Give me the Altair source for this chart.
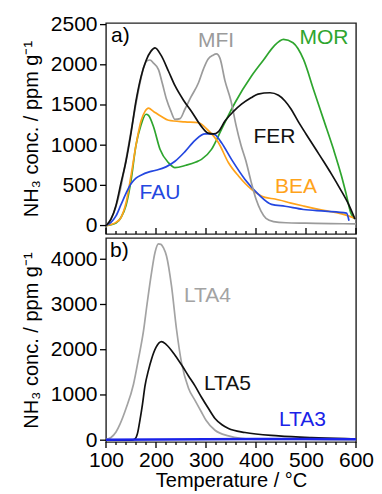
import altair as alt
import pandas as pd

# ---------------- data: panel a) ----------------
FER_T = [100, 110, 120, 130, 140, 150, 160, 170, 180, 190, 198, 210, 225, 238, 255, 271, 290, 304, 315, 325,
         338, 355, 371, 390, 404, 428, 445, 458, 470, 484, 500, 518, 535, 551, 568, 585, 598]
FER_V = [0, 80, 250, 530, 800, 1150, 1550, 1850, 2050, 2170, 2210, 2120, 1920, 1740, 1560, 1420, 1240, 1150, 1140, 1170,
         1300, 1420, 1510, 1590, 1636, 1652, 1620, 1550, 1450, 1300, 1140, 964, 800, 640, 460, 267, 80]

MFI_T = [100, 108, 118, 128, 138, 148, 158, 168, 176, 182, 188, 195, 205, 213, 221, 230, 238, 248, 258, 270,
         285, 295, 304, 314, 321, 328, 338, 350, 360, 370, 380, 390, 400, 410, 420, 435, 460, 500, 550, 600]
MFI_V = [0, 60, 200, 430, 750, 1100, 1450, 1776, 1980, 2050, 2060, 2020, 1940, 1760, 1570, 1420, 1320, 1330, 1450, 1600,
         1777, 1950, 2070, 2120, 2135, 2080, 1800, 1550, 1250, 1000, 800, 550, 330, 180, 90, 50, 35, 30, 25, 20]

MOR_T = [100, 110, 120, 130, 140, 150, 160, 170, 180, 185, 195, 208, 225, 238, 260, 280, 291, 311, 331, 358,
         391, 415, 436, 455, 474, 495, 515, 535, 555, 571, 580, 590, 596]
MOR_V = [0, 10, 30, 100, 250, 560, 1000, 1250, 1385, 1370, 1230, 950, 781, 720, 750, 790, 823, 948, 1197, 1528,
         1860, 2060, 2233, 2316, 2274, 2067, 1694, 1321, 948, 616, 400, 150, 90]

BEA_T = [100, 120, 130, 140, 150, 160, 170, 178, 185, 195, 210, 225, 258, 285, 305, 325, 345, 365, 391, 418,
         438, 470, 495, 538, 561, 580, 598]
BEA_V = [0, 40, 100, 280, 620, 1000, 1300, 1420, 1460, 1420, 1360, 1310, 1290, 1279, 1180, 1030, 781, 616, 450, 350,
         330, 280, 243, 185, 160, 130, 90]

FAU_T = [100, 110, 120, 130, 140, 150, 160, 171, 185, 198, 220, 238, 258, 278, 298, 311, 318, 331, 351, 378,
         405, 431, 458, 495, 538, 581, 586]
FAU_V = [0, 40, 120, 260, 400, 520, 590, 630, 665, 685, 730, 800, 920, 1060, 1140, 1140, 1130, 1030, 823, 574,
         388, 264, 240, 200, 180, 155, 60]

# ---------------- data: panel b) ----------------
LTA4_T = [100, 110, 120, 128, 140, 155, 165, 175, 182, 191, 198, 205, 210, 215, 221, 231, 241, 251, 265, 278,
          290, 300, 318, 345, 370, 400, 500, 600]
LTA4_V = [20, 60, 180, 354, 700, 1238, 1800, 2415, 3000, 3700, 4150, 4340, 4330, 4250, 4073, 3410, 2453, 1715, 1150, 880,
          640, 440, 220, 95, 40, 20, 15, 10]

LTA5_T = [100, 150, 158, 163, 168, 173, 178, 185, 191, 200, 211, 220, 238, 252, 265, 278, 291, 305, 318, 332,
          345, 378, 445, 511, 578, 600]
LTA5_V = [0, 0, 30, 150, 450, 800, 1200, 1550, 1790, 2050, 2180, 2120, 1880, 1650, 1420, 1200, 950, 700, 480, 340,
          260, 170, 95, 57, 35, 30]

LTA3_T = [100, 200, 300, 400, 500, 600]
LTA3_V = [10, 15, 20, 25, 25, 20]

# ---------------- labels ----------------
TOP_LABELS = ["MFI", "MOR", "FER", "BEA", "FAU"]
TOP_LABEL_T = [320, 536, 437, 480, 208]
TOP_LABEL_V = [2300, 2336, 1103, 479, 410]

BOT_LABELS = ["LTA4", "LTA5", "LTA3"]
BOT_LABEL_T = [303, 343, 493]
BOT_LABEL_V = [3189, 1233, 438]

PANEL_TAGS = ["a)", "b)"]
PANEL_TAG_T = [110, 108]
PANEL_TAG_V = [2360, 4183]

SERIES = ["MOR", "BEA", "FAU", "MFI", "FER", "LTA4", "LTA5", "LTA3"]
COLORS = ["#2ea52e", "#ffa31a", "#2447e0", "#9b9b9b", "#111111", "#a3a3a3", "#111111", "#1a22e8"]

X_MAJOR = list(range(100, 601, 100))
X_MINOR = list(range(100, 601, 20))
Y_TOP_TICKS = [0, 500, 1000, 1500, 2000, 2500]
Y_BOT_TICKS = [0, 1000, 2000, 3000, 4000]
FONT = "Liberation Sans"

# ---------------- layout constants ----------------
W, H_TOP, H_BOT = 250, 211, 204
X_DOM = [100, 600]
Y_TOP_DOM = [-105, 2520]
Y_BOT_DOM = [-40, 4470]
MAJOR_PX, MINOR_PX = 6, 3


def long_df(pairs):
    rows = []
    for name, ts, vs in pairs:
        for i, (t, v) in enumerate(zip(ts, vs)):
            rows.append({"series": name, "T": t, "v": v, "i": i})
    return pd.DataFrame(rows)


def per_px(dom, px):
    return (dom[1] - dom[0]) / px


def tick_df(ydom, h, yvalues, inward):
    """Axis tick marks as two-point line segments (in data units)."""
    ky = per_px(ydom, h)
    kx = per_px(X_DOM, W)
    sign = 1 if inward else -1
    rows = []
    for n, t in enumerate(X_MINOR):
        size = MAJOR_PX if t % 100 == 0 else MINOR_PX
        rows.append({"id": f"x{n}", "k": 0, "T": t, "v": ydom[0]})
        rows.append({"id": f"x{n}", "k": 1, "T": t, "v": ydom[0] + sign * size * ky})
    for n, v in enumerate(yvalues):
        rows.append({"id": f"y{n}", "k": 0, "T": X_DOM[0], "v": v})
        rows.append({"id": f"y{n}", "k": 1, "T": X_DOM[0] - MAJOR_PX * kx, "v": v})
    return pd.DataFrame(rows)


top_df = long_df([("MOR", MOR_T, MOR_V), ("BEA", BEA_T, BEA_V), ("FAU", FAU_T, FAU_V),
                  ("MFI", MFI_T, MFI_V), ("FER", FER_T, FER_V)])
bot_df = long_df([("LTA4", LTA4_T, LTA4_V), ("LTA5", LTA5_T, LTA5_V)])
lta3_df = long_df([("LTA3", LTA3_T, LTA3_V)])

top_lab = pd.DataFrame({"series": TOP_LABELS, "T": TOP_LABEL_T, "v": TOP_LABEL_V})
bot_lab = pd.DataFrame({"series": BOT_LABELS, "T": BOT_LABEL_T, "v": BOT_LABEL_V})
tag_a = pd.DataFrame({"label": [PANEL_TAGS[0]], "T": [PANEL_TAG_T[0]], "v": [PANEL_TAG_V[0]]})
tag_b = pd.DataFrame({"label": [PANEL_TAGS[1]], "T": [PANEL_TAG_T[1]], "v": [PANEL_TAG_V[1]]})

color_scale = alt.Scale(domain=SERIES, range=COLORS)
x_scale = alt.Scale(domain=X_DOM, nice=False, zero=False)
y_top_scale = alt.Scale(domain=Y_TOP_DOM, nice=False, zero=False)
y_bot_scale = alt.Scale(domain=Y_BOT_DOM, nice=False, zero=False)
y_title = "NH₃ conc. / ppm g⁻¹"

NOTICK = dict(ticks=False, grid=False, domain=False)

y_top = alt.Y("v:Q", scale=y_top_scale,
              axis=alt.Axis(values=Y_TOP_TICKS, format="d", title=y_title, labelPadding=9, titlePadding=9, **NOTICK))
x_bot = alt.X("T:Q", scale=x_scale,
              axis=alt.Axis(values=X_MAJOR, format="d", title="Temperature / °C", labelFlush=False,
                            labelOverlap=False, labelPadding=7, titlePadding=0, **NOTICK))
y_bot = alt.Y("v:Q", scale=y_bot_scale,
              axis=alt.Axis(values=Y_BOT_TICKS, format="d", title=y_title, labelPadding=9, titlePadding=9, **NOTICK))

color_enc = alt.Color("series:N", scale=color_scale, legend=None)


def panel(lines_df, lab_df, tag_df, show_x, yenc, yscale, ydom, h, yvalues, inward, extra=None):
    xs = alt.X("T:Q", scale=x_scale) if show_x else alt.X("T:Q", scale=x_scale, axis=None)
    xenc = x_bot if show_x else xs
    ys = alt.Y("v:Q", scale=yscale)
    layers = [
        alt.Chart(lines_df).mark_line(strokeWidth=1.7, interpolate="monotone").encode(
            x=xenc, y=yenc, color=color_enc, order="i:Q")
    ]
    if extra is not None:
        layers.append(alt.Chart(extra).mark_line(strokeWidth=2.6).encode(
            x=xs, y=ys, color=color_enc, order="i:Q"))
    layers += [
        alt.Chart(lab_df).mark_text(fontSize=21, font=FONT).encode(
            x=xs, y=ys, text="series:N", color=color_enc),
        alt.Chart(tag_df).mark_text(fontSize=21, font=FONT, align="left", color="black").encode(
            x=xs, y=ys, text="label:N"),
        alt.Chart(tick_df(ydom, h, yvalues, inward)).mark_line(color="black", strokeWidth=1.3).encode(
            x=xs, y=ys, detail="id:N", order="k:Q"),
    ]
    return alt.layer(*layers).properties(width=W, height=h)


top = panel(top_df, top_lab, tag_a, False, y_top, y_top_scale, Y_TOP_DOM, H_TOP, Y_TOP_TICKS, inward=True)
bot = panel(bot_df, bot_lab, tag_b, True, y_bot, y_bot_scale, Y_BOT_DOM, H_BOT, Y_BOT_TICKS, inward=False,
            extra=lta3_df)

chart = alt.vconcat(top, bot, spacing=4, bounds="flush").properties(
    padding={"left": 20, "top": 12, "right": 4, "bottom": 0},
    background="white",
).configure_view(stroke="#222222", strokeWidth=1.4).configure_axis(
    labelFont=FONT, labelFontSize=21, labelColor="black",
    titleFont=FONT, titleFontSize=20, titleColor="black", titleFontWeight="normal",
)

chart.save("out.html", embed_options={"renderer": "svg", "actions": False})
